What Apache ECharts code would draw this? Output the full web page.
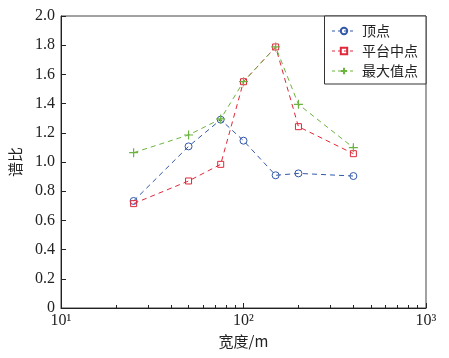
<!DOCTYPE html>
<html>
<head>
<meta charset="utf-8">
<script src="https://cdn.jsdelivr.net/npm/echarts@6/dist/echarts.min.js"></script>
<style>html,body{margin:0;padding:0;background:#fff;}#c{width:449px;height:358px;}</style>
</head>
<body>
<div id="c"></div>
<script>
var widths = [25, 50, 75, 100, 150, 200, 400];
var seriesNames = ['顶点', '平台中点', '最大值点'];
var dingdian = [0.733, 1.107, 1.290, 1.146, 0.909, 0.922, 0.904];
var pingtai = [0.715, 0.870, 0.984, 1.550, 1.788, 1.242, 1.057];
var zuida = [1.064, 1.185, 1.295, 1.550, 1.788, 1.395, 1.098];
var majorTicks = [10, 100, 1000];
var minorTicks = [20, 30, 40, 50, 60, 70, 80, 90, 200, 300, 400, 500, 600, 700, 800, 900];

var serif = 'Liberation Serif';
var cjk = 'Noto Sans CJK SC';
var colors = ['#3358a8', '#e0283a', '#6cb440'];

function pairs(vals) { return widths.map(function (w, i) { return [w, vals[i]]; }); }

var chart = echarts.init(document.getElementById('c'), null, { renderer: 'canvas' });
var sup = { '1': '¹', '2': '²', '3': '³' };
chart.setOption({
  animation: false,
  backgroundColor: '#fff',
  grid: { left: 57, right: 23, top: 16, bottom: 50, show: true, borderColor: '#444', borderWidth: 1, backgroundColor: 'transparent' },
  legend: {
    orient: 'vertical', right: 23, top: 16, align: 'left',
    backgroundColor: '#fff', borderColor: '#333', borderWidth: 1, borderRadius: 0,
    padding: [6, 8, 4, 7], itemGap: 2, itemWidth: 24, itemHeight: 8,
    lineStyle: { type: [3, 3], width: 1 },
    textStyle: { fontFamily: cjk, fontSize: 14, lineHeight: 18, color: '#222', padding: [0, 0, 0, 1] },
    data: seriesNames
  },
  xAxis: [{
    type: 'log', logBase: 10, min: 10, max: 1000,
    name: '宽度/m', nameLocation: 'middle', nameGap: 26,
    nameTextStyle: { fontFamily: cjk, fontSize: 15, color: '#222' },
    axisLine: { show: true, onZero: false, lineStyle: { color: '#222', width: 1 } },
    axisTick: { show: true, inside: true, length: 5, lineStyle: { color: '#222' }, customValues: majorTicks },
    axisLabel: {
      fontFamily: serif, fontSize: 16, color: '#222', margin: 5,
      customValues: majorTicks,
      formatter: function (v) { var e = Math.round(Math.log10(v)); return '10' + sup[e]; }
    },
    splitLine: { show: false }
  }, {
    type: 'log', logBase: 10, min: 10, max: 1000, position: 'bottom',
    axisLine: { show: false },
    axisTick: { show: true, inside: true, length: 3, lineStyle: { color: '#222' }, customValues: minorTicks },
    axisLabel: { show: false },
    splitLine: { show: false }
  }],
  yAxis: {
    type: 'value', min: 0, max: 2.0, interval: 0.2,
    name: '谱比', nameLocation: 'middle', nameGap: 38, nameRotate: 90,
    nameTextStyle: { fontFamily: cjk, fontSize: 15, color: '#222' },
    axisLine: { show: true, lineStyle: { color: '#222', width: 1 } },
    axisTick: { show: true, inside: true, length: 5, lineStyle: { color: '#222' } },
    axisLabel: {
      fontFamily: serif, fontSize: 16, color: '#222', margin: 6,
      formatter: function (v) { return v === 0 ? '0' : v.toFixed(1); }
    },
    splitLine: { show: false }
  },
  series: [{
    name: seriesNames[0], type: 'line', data: pairs(dingdian),
    symbol: 'circle', symbolSize: 7,
    lineStyle: { color: colors[0], width: 1, type: [5, 4] },
    itemStyle: { color: 'rgba(255,255,255,0)', borderColor: colors[0], borderWidth: 1 }
  }, {
    name: seriesNames[1], type: 'line', data: pairs(pingtai),
    symbol: 'rect', symbolSize: 6,
    lineStyle: { color: colors[1], width: 1, type: [5, 4] },
    itemStyle: { color: 'rgba(255,255,255,0)', borderColor: colors[1], borderWidth: 1 }
  }, {
    name: seriesNames[2], type: 'line', data: pairs(zuida),
    symbol: 'path://M0,-1L0,1M-1,0L1,0', symbolSize: 9,
    lineStyle: { color: colors[2], width: 1, type: [5, 4] },
    itemStyle: { color: 'rgba(255,255,255,0)', borderColor: colors[2], borderWidth: 1.2 }
  }]
});
</script>
</body>
</html>
